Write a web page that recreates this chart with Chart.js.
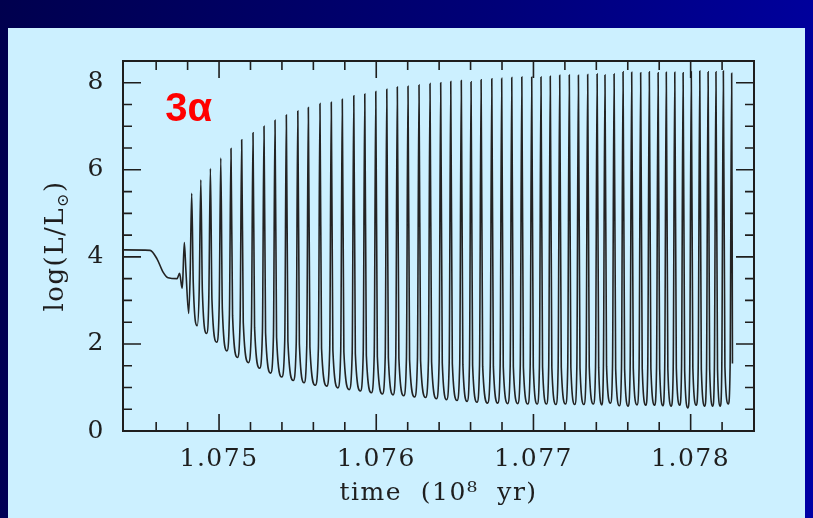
<!DOCTYPE html>
<html lang="en">
<head>
<meta charset="UTF-8">
<title>Helium shell flashes</title>
<script src="https://cdn.jsdelivr.net/npm/chart.js"></script>
<style>
  body {
    margin: 0;
    width: 813px;
    height: 518px;
    overflow: hidden;
    background: linear-gradient(100deg, #00004e 0%, #000078 55%, #0000a6 100%);
  }
  .panel {
    position: absolute;
    left: 8px;
    top: 28px;
    width: 797px;
    height: 490px;
    background: #ccf0ff;
  }
</style>
</head>
<body>
<div class="panel"><canvas id="chart" width="797" height="490"></canvas></div>
<script>
// quiet phase before the first flash
const preTime = [1.074389, 1.074561, 1.074606, 1.074644, 1.074676, 1.074733, 1.074749, 1.074765];
const preLum  = [4.16, 4.15, 3.95, 3.65, 3.52, 3.50, 3.62, 3.28];

// flash peaks
const peakTime = [
  1.074779, 1.074826, 1.074884, 1.074945, 1.075011, 1.075076, 1.075144, 1.075216, 1.075286, 1.075356,
  1.075428, 1.075501, 1.075568, 1.075642, 1.075714, 1.075784, 1.075857, 1.075927, 1.075997, 1.076067,
  1.076134, 1.076202, 1.076272, 1.076342, 1.076410, 1.076474, 1.076541, 1.076603, 1.076667, 1.076735,
  1.076798, 1.076862, 1.076926, 1.076989, 1.077048, 1.077107, 1.077167, 1.077228, 1.077286, 1.077345,
  1.077405, 1.077455, 1.077513, 1.077570, 1.077625, 1.077682, 1.077737, 1.077793, 1.077845, 1.077899,
  1.077952, 1.078004, 1.078058, 1.078111, 1.078161, 1.078208, 1.078261
];
const peakLum = [
  4.33, 5.46, 5.77, 6.03, 6.27, 6.49, 6.69, 6.85, 7.00, 7.14,
  7.26, 7.35, 7.43, 7.52, 7.55, 7.62, 7.70, 7.74, 7.80, 7.85,
  7.90, 7.92, 7.95, 7.98, 8.00, 8.03, 8.05, 8.02, 8.07, 8.09,
  8.10, 8.12, 8.13, 8.13, 8.13, 8.15, 8.17, 8.18, 8.17, 8.19,
  8.20, 8.18, 8.20, 8.25, 8.24, 8.23, 8.25, 8.23, 8.24, 8.24,
  8.23, 8.25, 8.27, 8.25, 8.25, 8.27, 8.22
];

// foot of each spike on the rising side
const riseTime = [
  1.074769, 1.074816, 1.074874, 1.074935, 1.075001, 1.075066, 1.075134, 1.075206, 1.075276, 1.075346,
  1.075418, 1.075491, 1.075558, 1.075632, 1.075704, 1.075774, 1.075847, 1.075917, 1.075987, 1.076057,
  1.076124, 1.076192, 1.076262, 1.076332, 1.076400, 1.076464, 1.076531, 1.076593, 1.076657, 1.076725,
  1.076788, 1.076852, 1.076916, 1.076979, 1.077038, 1.077097, 1.077157, 1.077218, 1.077276, 1.077335,
  1.077395, 1.077445, 1.077503, 1.077560, 1.077615, 1.077672, 1.077727, 1.077783, 1.077835, 1.077889,
  1.077942, 1.077994, 1.078048, 1.078101, 1.078151, 1.078198, 1.078251
];
const riseLum = [
  3.45, 3.55, 3.27, 3.09, 2.89, 2.69, 2.54, 2.42, 2.29, 2.18,
  2.09, 2.01, 1.96, 1.90, 1.88, 1.84, 1.80, 1.77, 1.73, 1.70,
  1.68, 1.66, 1.63, 1.62, 1.59, 1.57, 1.55, 1.53, 1.51, 1.49,
  1.49, 1.48, 1.48, 1.47, 1.47, 1.47, 1.46, 1.47, 1.46, 1.46,
  1.47, 1.45, 1.49, 1.43, 1.42, 1.45, 1.44, 1.44, 1.43, 1.42,
  1.44, 1.38, 1.44, 1.42, 1.42, 1.42, 1.47
];

// foot of each spike on the falling side
const fallTime = [
  1.074789, 1.074836, 1.074894, 1.074955, 1.075021, 1.075086, 1.075154, 1.075226, 1.075296, 1.075366,
  1.075438, 1.075511, 1.075578, 1.075652, 1.075724, 1.075794, 1.075867, 1.075937, 1.076007, 1.076077,
  1.076144, 1.076212, 1.076282, 1.076352, 1.076420, 1.076484, 1.076551, 1.076613, 1.076677, 1.076745,
  1.076808, 1.076872, 1.076936, 1.076999, 1.077058, 1.077117, 1.077177, 1.077238, 1.077296, 1.077355,
  1.077415, 1.077465, 1.077523, 1.077580, 1.077635, 1.077692, 1.077747, 1.077803, 1.077855, 1.077909,
  1.077962, 1.078014, 1.078068, 1.078121, 1.078171, 1.078218
];
const fallLum = [
  3.70, 3.40, 3.20, 3.00, 2.80, 2.65, 2.50, 2.38, 2.25, 2.15,
  2.06, 2.00, 1.93, 1.90, 1.86, 1.82, 1.78, 1.74, 1.71, 1.69,
  1.67, 1.64, 1.62, 1.59, 1.57, 1.55, 1.53, 1.51, 1.49, 1.49,
  1.48, 1.48, 1.47, 1.47, 1.47, 1.46, 1.47, 1.46, 1.46, 1.47,
  1.45, 1.49, 1.43, 1.42, 1.45, 1.44, 1.44, 1.43, 1.42, 1.44,
  1.38, 1.44, 1.42, 1.42, 1.42, 1.47
];

// minima between flashes
const troughTime = [
  1.074807, 1.074861, 1.074921, 1.074985, 1.075050, 1.075117, 1.075187, 1.075258, 1.075328, 1.075399,
  1.075472, 1.075541, 1.075612, 1.075685, 1.075756, 1.075828, 1.075899, 1.075969, 1.076039, 1.076107,
  1.076175, 1.076244, 1.076314, 1.076383, 1.076448, 1.076514, 1.076578, 1.076641, 1.076708, 1.076773,
  1.076836, 1.076900, 1.076964, 1.077024, 1.077083, 1.077143, 1.077204, 1.077263, 1.077321, 1.077381,
  1.077435, 1.077490, 1.077547, 1.077603, 1.077659, 1.077715, 1.077771, 1.077824, 1.077877, 1.077931,
  1.077983, 1.078036, 1.078090, 1.078141, 1.078189, 1.078240
];
const troughLum = [
  2.70, 2.42, 2.24, 2.04, 1.84, 1.69, 1.57, 1.44, 1.33, 1.24,
  1.16, 1.11, 1.05, 1.03, 0.99, 0.95, 0.92, 0.88, 0.85, 0.83,
  0.81, 0.78, 0.77, 0.74, 0.72, 0.70, 0.68, 0.66, 0.64, 0.64,
  0.63, 0.63, 0.62, 0.62, 0.62, 0.61, 0.62, 0.61, 0.61, 0.62,
  0.60, 0.64, 0.58, 0.57, 0.60, 0.59, 0.59, 0.58, 0.57, 0.59,
  0.53, 0.59, 0.57, 0.57, 0.57, 0.62
];

const tailTime = [1.078266];
const tailLum  = [1.55];

const xTickLabels = ['1.075', '1.076', '1.077', '1.078'];
const yTickLabels = ['0', '2', '4', '6', '8'];

// build the curve in time order
const points = preTime.map((t, i) => ({ x: t, y: preLum[i] }));
peakTime.forEach((t, i) => {
  points.push({ x: riseTime[i], y: riseLum[i] });
  points.push({ x: t, y: peakLum[i] });
  if (i < fallTime.length) points.push({ x: fallTime[i], y: fallLum[i] });
  if (i < troughTime.length) points.push({ x: troughTime[i], y: troughLum[i] });
});
tailTime.forEach((t, i) => points.push({ x: t, y: tailLum[i] }));

const serif = '"DejaVu Serif", "Liberation Serif", serif';
const ink = '#1e1e1e';

function isMajorX(v) {
  return Math.abs(v * 1000 - Math.round(v * 1000)) < 1e-6;
}
function isMajorY(v) {
  return Math.abs(v / 2 - Math.round(v / 2)) < 1e-6;
}

// wider letter spacing, like the old plotting font
const spacingPlugin = {
  id: 'spacing',
  beforeDraw(chart) { chart.ctx.letterSpacing = '1.5px'; }
};

// frame, inward ticks on all sides, y title with subscript, "3α" label
const framePlugin = {
  id: 'frame',
  afterDraw(chart) {
    const { ctx, chartArea: a, scales } = chart;
    const xs = scales.x, ys = scales.y;
    ctx.save();
    ctx.strokeStyle = ink;
    ctx.lineWidth = 1.6;
    ctx.beginPath();
    xs.ticks.forEach(t => {
      const v = t.value;
      if (Math.abs(v * 10000 - Math.round(v * 10000)) > 1e-6) return;
      const px = xs.getPixelForValue(v);
      if (px <= a.left + 1 || px >= a.right - 1) return;
      const len = isMajorX(v) ? 17 : 9;
      ctx.moveTo(px, a.bottom); ctx.lineTo(px, a.bottom - len);
      ctx.moveTo(px, a.top); ctx.lineTo(px, a.top + len);
    });
    ys.ticks.forEach(t => {
      const v = t.value;
      const py = ys.getPixelForValue(v);
      if (py <= a.top + 1 || py >= a.bottom - 1) return;
      const len = isMajorY(v) ? 18 : 9;
      ctx.moveTo(a.left, py); ctx.lineTo(a.left + len, py);
      ctx.moveTo(a.right, py); ctx.lineTo(a.right - len, py);
    });
    ctx.stroke();
    ctx.lineWidth = 2;
    ctx.strokeRect(a.left, a.top, a.right - a.left, a.bottom - a.top);

    // y axis title: log(L/L⊙)
    ctx.fillStyle = ink;
    ctx.textBaseline = 'middle';
    ctx.textAlign = 'left';
    ctx.letterSpacing = '1.5px';
    const big = '26px ' + serif, small = '16px ' + serif;
    ctx.font = big;
    const wa = ctx.measureText('log(L/L').width;
    const wc = ctx.measureText(')').width;
    ctx.font = small;
    const ws = ctx.measureText('⊙').width;
    ctx.translate(48, (a.top + a.bottom) / 2);
    ctx.rotate(-Math.PI / 2);
    const sx = -(wa + ws + wc) / 2;
    ctx.font = big;
    ctx.fillText('log(L/L', sx, 0);
    ctx.font = small;
    ctx.fillText('⊙', sx + wa, 8);
    ctx.font = big;
    ctx.fillText(')', sx + wa + ws, 0);
    ctx.restore();

    ctx.save();
    ctx.letterSpacing = '0px';
    ctx.fillStyle = '#ff0000';
    ctx.font = 'bold 40px "Liberation Sans", Arial, sans-serif';
    ctx.textBaseline = 'alphabetic';
    ctx.textAlign = 'left';
    ctx.fillText('3α', xs.getPixelForValue(1.074657), ys.getPixelForValue(7.12));
    ctx.restore();
  }
};

new Chart(document.getElementById('chart'), {
  type: 'line',
  data: {
    datasets: [{
      data: points,
      borderColor: '#232323',
      borderWidth: 1.6,
      pointRadius: 0,
      fill: false,
      cubicInterpolationMode: 'monotone'
    }]
  },
  options: {
    responsive: false,
    animation: false,
    devicePixelRatio: 1,
    layout: { padding: { top: 28, right: 51, left: 0, bottom: 0 } },
    plugins: { legend: { display: false }, tooltip: { enabled: false } },
    scales: {
      x: {
        type: 'linear',
        min: 1.074389,
        max: 1.078403,
        grid: { display: false, drawTicks: false },
        border: { display: false },
        ticks: {
          stepSize: 0.0002,
          autoSkip: false,
          maxRotation: 0,
          padding: 13,
          color: ink,
          font: { family: serif, size: 25 },
          callback: v => {
            const s = Number(v).toFixed(3);
            return isMajorX(v) && xTickLabels.includes(s) ? s : '';
          }
        },
        title: {
          display: true,
          text: 'time  (10⁸  yr)',
          color: ink,
          font: { family: serif, size: 25 },
          padding: { top: 0, bottom: 10 }
        },
        afterFit: s => { s.height = 87; }
      },
      y: {
        min: 0,
        max: 8.5,
        grid: { display: false, drawTicks: false },
        border: { display: false },
        ticks: {
          stepSize: 0.5,
          autoSkip: false,
          padding: 18,
          color: ink,
          font: { family: serif, size: 25 },
          callback: v => {
            const s = String(Math.round(v));
            return isMajorY(v) && yTickLabels.includes(s) ? s : '';
          }
        },
        afterFit: s => { s.width = 115; }
      }
    }
  },
  plugins: [spacingPlugin, framePlugin]
});
</script>
</body>
</html>
